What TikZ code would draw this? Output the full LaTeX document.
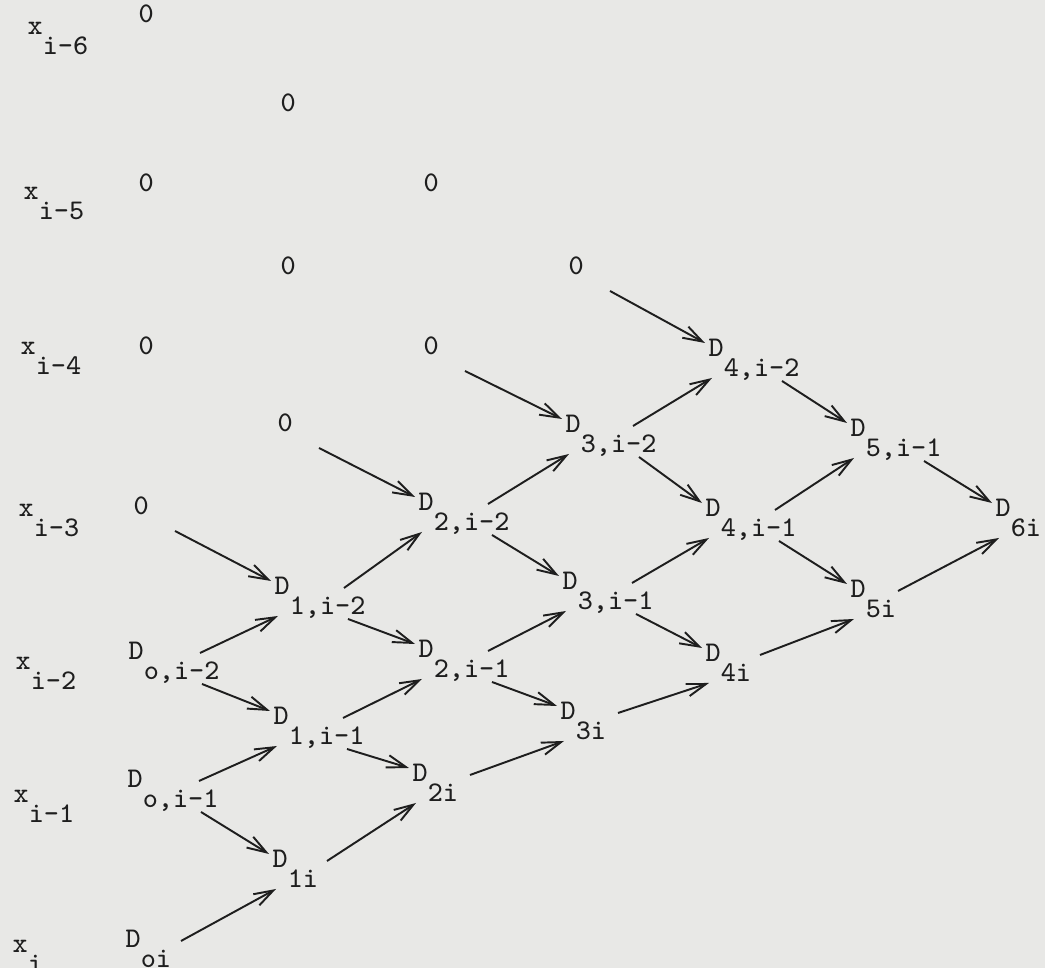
\documentclass[tikz,border=0pt]{standalone}
\usepackage{fontspec}
\usepackage{xcolor}
\definecolor{paper}{HTML}{E8E8E6}
\definecolor{ink}{HTML}{1E1E1E}
\usepackage{tikz}
\usetikzlibrary{arrows.meta}
\newcommand{\lowsub}[1]{\raisebox{-5.6pt}{#1}}

\begin{document}
\begin{tikzpicture}[x=0.01cm, y=-0.01cm,
  entry/.style={anchor=base west, inner sep=0pt, text=ink, font=\ttfamily\fontsize{8.1}{9}\selectfont},
  arr/.style={-{Straight Barb[length=5.5pt,width=3.6pt]}, line width=0.55pt, draw=ink}]
  \useasboundingbox[fill=paper] (0,0) rectangle (1045,968);
  % abscissae
  \node[entry] (xl6) at (27,35)  {x\lowsub{i-6}};
  \node[entry] (xl5) at (23,200) {x\lowsub{i-5}};
  \node[entry] (xl4) at (20,355) {x\lowsub{i-4}};
  \node[entry] (xl3) at (18,517) {x\lowsub{i-3}};
  \node[entry] (xl2) at (15,670) {x\lowsub{i-2}};
  \node[entry] (xl1) at (13,803) {x\lowsub{i-1}};
  \node[entry] (xl0) at (12,953) {x\lowsub{i}};
  % zero entries
  \node[entry] (z06) at (138,23)  {0};
  \node[entry] (z05) at (138,192) {0};
  \node[entry] (z04) at (138,355) {0};
  \node[entry] (z03) at (133,515) {0};
  \node[entry] (z15) at (280,112) {0};
  \node[entry] (z14) at (280,275) {0};
  \node[entry] (z13) at (277,432) {0};
  \node[entry] (z24) at (423,192) {0};
  \node[entry] (z23) at (423,355) {0};
  \node[entry] (z33) at (568,275) {0};
  % divided differences
  \node[entry] (d02) at (128,660) {D\lowsub{o,i-2}};
  \node[entry] (d01) at (127,788) {D\lowsub{o,i-1}};
  \node[entry] (d00) at (125,948) {D\lowsub{oi}};
  \node[entry] (d12) at (274,595) {D\lowsub{1,i-2}};
  \node[entry] (d11) at (273,725) {D\lowsub{1,i-1}};
  \node[entry] (d10) at (272,868) {D\lowsub{1i}};
  \node[entry] (d22) at (418,511) {D\lowsub{2,i-2}};
  \node[entry] (d21) at (418,658) {D\lowsub{2,i-1}};
  \node[entry] (d20) at (412,782) {D\lowsub{2i}};
  \node[entry] (d32) at (565,433) {D\lowsub{3,i-2}};
  \node[entry] (d31) at (562,590) {D\lowsub{3,i-1}};
  \node[entry] (d30) at (560,720) {D\lowsub{3i}};
  \node[entry] (d42) at (708,357) {D\lowsub{4,i-2}};
  \node[entry] (d41) at (705,517) {D\lowsub{4,i-1}};
  \node[entry] (d40) at (705,662) {D\lowsub{4i}};
  \node[entry] (d51) at (850,437) {D\lowsub{5,i-1}};
  \node[entry] (d50) at (850,598) {D\lowsub{5i}};
  \node[entry] (d60) at (995,517) {D\lowsub{6i}};
  % zeros feeding the top diagonal
  \foreach \a/\b in {z03/d12, z13/d22, z23/d32, z33/d42}
    \draw[arr] ([shift={(42,16)}]\a.base west) -- ([shift={(-3,-14)}]\b.base west);
  % rising arrows (\s: where the tail starts, after the subscript)
  \foreach \a/\b/\s in {d02/d12/72, d01/d11/72, d00/d10/56, d12/d22/70, d11/d21/70,
      d10/d20/55, d22/d32/70, d21/d31/70, d20/d30/58, d32/d42/68, d31/d41/70,
      d30/d40/58, d41/d51/70, d40/d50/55, d50/d60/48}
    \draw[arr] ([shift={(\s,-7)}]\a.base west) -- ([shift={(4,21)}]\b.base west);
  % falling arrows
  \foreach \a/\b in {d02/d11, d01/d10, d12/d21, d11/d20, d22/d31, d21/d30,
      d32/d41, d31/d40, d42/d51, d41/d50, d51/d60}
    \draw[arr] ([shift={(74,24)}]\a.base west) -- ([shift={(-3,-14)}]\b.base west);
\end{tikzpicture}
\end{document}
